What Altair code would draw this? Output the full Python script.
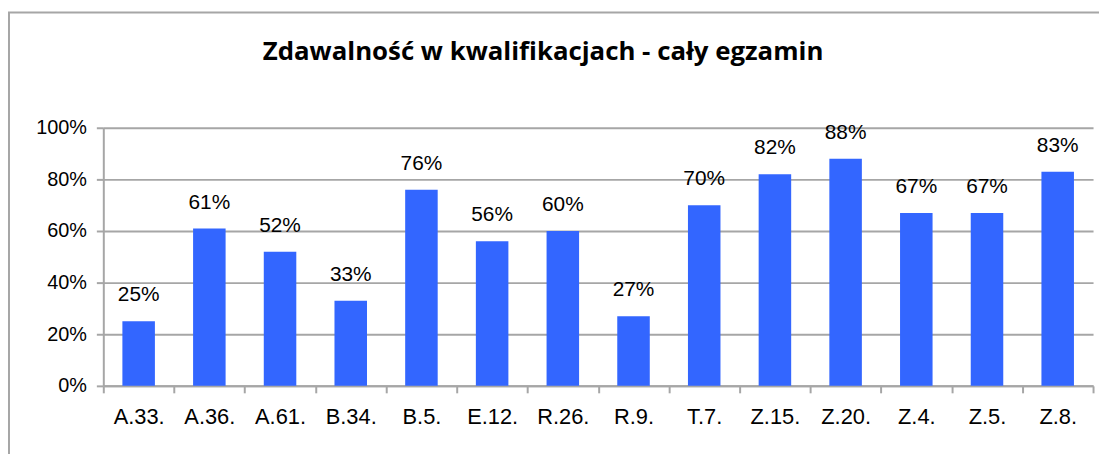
import altair as alt
import pandas as pd

categories = ["A.33.", "A.36.", "A.61.", "B.34.", "B.5.", "E.12.", "R.26.",
              "R.9.", "T.7.", "Z.15.", "Z.20.", "Z.4.", "Z.5.", "Z.8."]
values = [0.25, 0.61, 0.52, 0.33, 0.76, 0.56, 0.60,
          0.27, 0.70, 0.82, 0.88, 0.67, 0.67, 0.83]
y_ticks = [0, 0.2, 0.4, 0.6, 0.8, 1.0]
title_text = "Zdawalność w kwalifikacjach - cały egzamin"

df = pd.DataFrame({"kat": categories, "val": values})

GRAY = "#A6A6A6"
BLUE = "#3366FF"
FONT = "Arial"

x_enc = alt.X("kat:N", sort=categories, title=None,
              scale=alt.Scale(paddingInner=0, paddingOuter=0),
              axis=alt.Axis(labelAngle=0, labelFont=FONT, labelFontSize=22,
                            labelColor="#000000", labelPadding=14, tickBand="extent",
                            tickSize=7, tickColor=GRAY, tickWidth=2,
                            domainColor=GRAY, domainWidth=2))
y_enc = alt.Y("val:Q", title=None,
              scale=alt.Scale(domain=[0, 1], nice=False),
              axis=alt.Axis(values=y_ticks, format=".0%", labelFont=FONT,
                            labelFontSize=20, labelColor="#000000", labelPadding=10,
                            tickSize=7, tickColor=GRAY, tickWidth=2,
                            domainColor=GRAY, domainWidth=2,
                            grid=True, gridColor=GRAY, gridWidth=2))

base = alt.Chart(df)
bars = base.mark_bar(color=BLUE, width=alt.RelativeBandSize(0.46)).encode(x=x_enc, y=y_enc)
labels = base.mark_text(font=FONT, fontSize=21, color="#000000",
                        baseline="middle", dy=-26).encode(
    x=alt.X("kat:N", sort=categories),
    y="val:Q",
    text=alt.Text("val:Q", format=".0%"))

title_df = pd.DataFrame({"t": [title_text]})
title = alt.Chart(title_df).mark_text(font="Open Sans", fontWeight="bold", fontSize=26,
                                      color="#000000", baseline="alphabetic",
                                      align="center").encode(
    text="t:N", x=alt.value(443), y=alt.value(-68))

border = alt.Chart(title_df).mark_rect(fill=None, fillOpacity=0, stroke=GRAY,
                                       strokeWidth=2, clip=False).encode(
    x=alt.value(-95), x2=alt.value(1020), y=alt.value(-116), y2=alt.value(400))

chart = alt.layer(border, bars, labels, title).properties(
    width=997, height=260,
    autosize=alt.AutoSizeParams(type="none"),
    padding={"left": 96, "top": 119, "right": 6, "bottom": 67},
).configure_view(stroke=None)

chart.save("out.html", embed_options={"renderer": "svg", "actions": False})
